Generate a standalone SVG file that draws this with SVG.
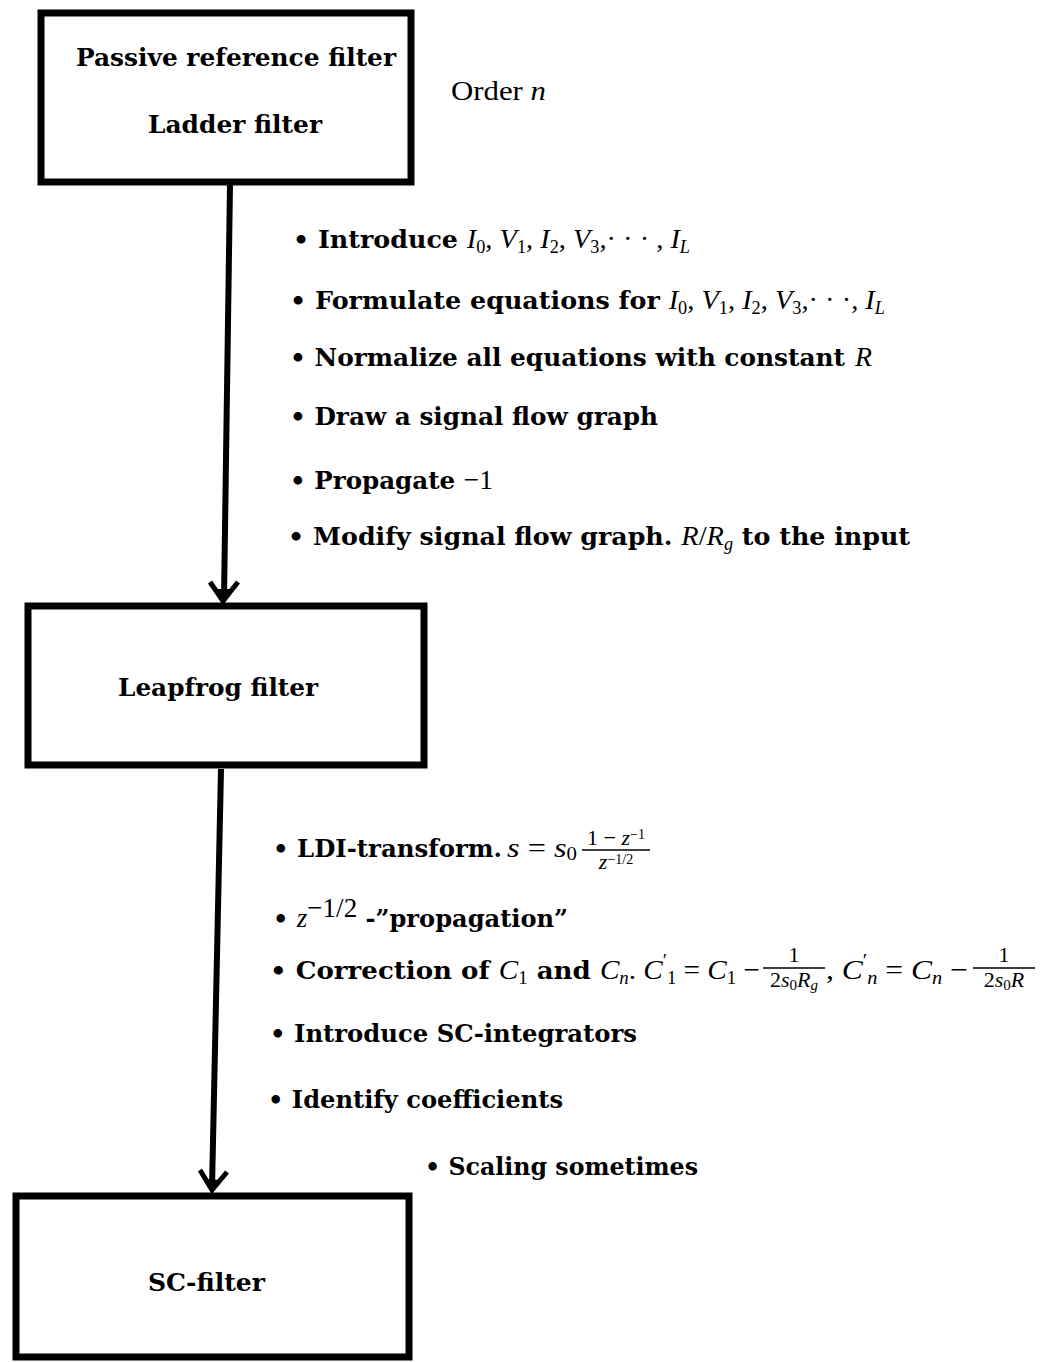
<svg xmlns="http://www.w3.org/2000/svg" width="1045" height="1362" viewBox="0 0 1045 1362">
  <style>
    .box { fill: #fff; stroke: #000; stroke-width: 7; }
    .lbl { font-family: "DejaVu Serif", "Liberation Serif", serif; font-weight: bold; font-size: 25px; fill: #000; }
    .rm { font-family: "Liberation Serif", "DejaVu Serif", serif; font-weight: normal; font-size: 28px; fill: #000; }
    .m { font-family: "Liberation Serif", "DejaVu Serif", serif; font-style: italic; font-weight: normal; font-size: 28px; }
    .n { font-family: "Liberation Serif", "DejaVu Serif", serif; font-style: normal; font-weight: normal; font-size: 28px; }
    .sub { font-size: 18px; }
    .fr { font-family: "Liberation Serif", "DejaVu Serif", serif; font-weight: normal; font-size: 22px; fill: #000; }
    .line { fill: none; stroke: #000; stroke-width: 6; }
    .head { fill: none; stroke: #000; stroke-width: 5; stroke-linejoin: miter; stroke-linecap: butt; }
    .tip { fill: #000; }
    .frac { stroke: #000; stroke-width: 1.4; }
  </style>
  <rect width="1045" height="1362" fill="#fff"/>

  <!-- connectors -->
  <g id="connectors">
    <line class="line" x1="230" y1="184" x2="224" y2="598"/>
    <path class="head" d="M210,582 L223,601 L238,582"/>
    <path class="tip" d="M216,589 L223,603 L231,589 Z"/>
    <line class="line" x1="221" y1="769" x2="212" y2="1188"/>
    <path class="head" d="M200,1170 L212,1190 L227,1172"/>
    <path class="tip" d="M205,1179 L212,1193 L220,1180 Z"/>
  </g>

  <!-- node: passive reference / ladder filter -->
  <g id="node-ladder">
    <rect class="box" x="41" y="13" width="370" height="169"/>
    <text class="lbl" x="76" y="66" textLength="320" lengthAdjust="spacingAndGlyphs">Passive reference filter</text>
    <text class="lbl" x="148" y="133" textLength="174" lengthAdjust="spacingAndGlyphs">Ladder filter</text>
  </g>
  <text class="rm" x="451" y="100" textLength="95" lengthAdjust="spacingAndGlyphs">Order <tspan class="m">n</tspan></text>

  <!-- steps from ladder filter to leapfrog filter -->
  <g id="steps-1">
    <text class="lbl" x="293" y="248" textLength="397" lengthAdjust="spacingAndGlyphs">• Introduce <tspan class="m">I</tspan><tspan class="n sub" dy="5">0</tspan><tspan class="n" dy="-5">, </tspan><tspan class="m">V</tspan><tspan class="n sub" dy="5">1</tspan><tspan class="n" dy="-5">, </tspan><tspan class="m">I</tspan><tspan class="n sub" dy="5">2</tspan><tspan class="n" dy="-5">, </tspan><tspan class="m">V</tspan><tspan class="n sub" dy="5">3</tspan><tspan class="n" dy="-5">,· · · , </tspan><tspan class="m">I</tspan><tspan class="m sub" dy="5">L</tspan></text>
    <text class="lbl" x="290" y="309" textLength="595" lengthAdjust="spacingAndGlyphs">• Formulate equations for <tspan class="m">I</tspan><tspan class="n sub" dy="5">0</tspan><tspan class="n" dy="-5">, </tspan><tspan class="m">V</tspan><tspan class="n sub" dy="5">1</tspan><tspan class="n" dy="-5">, </tspan><tspan class="m">I</tspan><tspan class="n sub" dy="5">2</tspan><tspan class="n" dy="-5">, </tspan><tspan class="m">V</tspan><tspan class="n sub" dy="5">3</tspan><tspan class="n" dy="-5">,· · ·, </tspan><tspan class="m">I</tspan><tspan class="m sub" dy="5">L</tspan></text>
    <text class="lbl" x="290" y="366" textLength="582" lengthAdjust="spacingAndGlyphs">• Normalize all equations with constant<tspan class="n"> </tspan><tspan class="m" dx="3">R</tspan></text>
    <text class="lbl" x="290" y="425" textLength="368" lengthAdjust="spacingAndGlyphs">• Draw a signal flow graph</text>
    <text class="lbl" x="290" y="489" textLength="203" lengthAdjust="spacingAndGlyphs">• Propagate <tspan class="n">−1</tspan></text>
    <text class="lbl" x="288" y="545" textLength="622" lengthAdjust="spacingAndGlyphs">• Modify signal flow graph. <tspan class="m">R</tspan><tspan class="n">/</tspan><tspan class="m">R</tspan><tspan class="m sub" dy="5">g</tspan><tspan dy="-5"> to the input</tspan></text>
  </g>

  <!-- node: leapfrog filter -->
  <g id="node-leapfrog">
    <rect class="box" x="28" y="606" width="396" height="159"/>
    <text class="lbl" x="118" y="696" textLength="200" lengthAdjust="spacingAndGlyphs">Leapfrog filter</text>
  </g>

  <!-- steps from leapfrog filter to SC filter -->
  <g id="steps-2">
    <!-- LDI transform with its fraction -->
    <text class="lbl" x="273" y="857" textLength="229" lengthAdjust="spacingAndGlyphs">• LDI-transform.</text>
    <text class="n" font-size="26" x="507" y="857" textLength="70" lengthAdjust="spacingAndGlyphs"><tspan class="m" font-size="26">s</tspan> = <tspan class="m" font-size="26">s</tspan><tspan class="sub" dy="3">0</tspan></text>
    <text class="fr" x="616" y="845" text-anchor="middle" font-size="20">1 − <tspan font-style="italic">z</tspan><tspan font-size="14" dy="-6">−1</tspan></text>
    <line class="frac" x1="582" y1="850" x2="650" y2="850"/>
    <text class="fr" x="616" y="869" text-anchor="middle" font-size="20"><tspan font-style="italic">z</tspan><tspan font-size="14" dy="-5">−1/2</tspan></text>

    <text class="lbl" x="273" y="927" textLength="295" lengthAdjust="spacingAndGlyphs">• <tspan class="m" font-size="25">z</tspan><tspan class="n" font-size="16" dy="-10">−1/2</tspan><tspan dy="10"> -”propagation”</tspan></text>

    <!-- capacitor correction with two fractions -->
    <text class="lbl" x="270" y="979" textLength="490" lengthAdjust="spacingAndGlyphs">• Correction of <tspan class="m">C</tspan><tspan class="n sub" dy="5">1</tspan><tspan dy="-5"> and </tspan><tspan class="m">C</tspan><tspan class="m sub" dy="5">n</tspan><tspan class="n" dy="-5">. </tspan><tspan class="m">C</tspan><tspan class="n sub" dy="-12">′</tspan><tspan class="n sub" dy="17">1</tspan><tspan class="n" dy="-5"> = </tspan><tspan class="m">C</tspan><tspan class="n sub" dy="5">1</tspan><tspan class="n" dy="-5"> − </tspan></text>
    <text class="fr" x="794" y="962" text-anchor="middle" font-size="20">1</text>
    <line class="frac" x1="763" y1="968" x2="825" y2="968"/>
    <text class="fr" x="794" y="987" text-anchor="middle">2<tspan font-style="italic">s</tspan><tspan font-size="15" dy="3">0</tspan><tspan font-style="italic" dy="-3">R</tspan><tspan font-style="italic" font-size="15" dy="3">g</tspan></text>
    <text class="n" x="826" y="979" textLength="142" lengthAdjust="spacingAndGlyphs">, <tspan class="m">C</tspan><tspan class="sub" dy="-12">′</tspan><tspan class="m sub" dy="17">n</tspan><tspan dy="-5"> = </tspan><tspan class="m">C</tspan><tspan class="m sub" dy="5">n</tspan><tspan dy="-5"> − </tspan></text>
    <text class="fr" x="1004" y="962" text-anchor="middle" font-size="20">1</text>
    <line class="frac" x1="973" y1="968" x2="1035" y2="968"/>
    <text class="fr" x="1004" y="987" text-anchor="middle">2<tspan font-style="italic">s</tspan><tspan font-size="15" dy="3">0</tspan><tspan font-style="italic" dy="-3">R</tspan></text>

    <text class="lbl" x="270" y="1042" textLength="367" lengthAdjust="spacingAndGlyphs">• Introduce SC-integrators</text>
    <text class="lbl" x="268" y="1108" textLength="295" lengthAdjust="spacingAndGlyphs">• Identify coefficients</text>
    <text class="lbl" x="425" y="1175" textLength="273" lengthAdjust="spacingAndGlyphs">• Scaling sometimes</text>
  </g>

  <!-- node: SC filter -->
  <g id="node-sc">
    <rect class="box" x="16" y="1196" width="393" height="161"/>
    <text class="lbl" x="148" y="1291" textLength="117" lengthAdjust="spacingAndGlyphs">SC-filter</text>
  </g>
</svg>
